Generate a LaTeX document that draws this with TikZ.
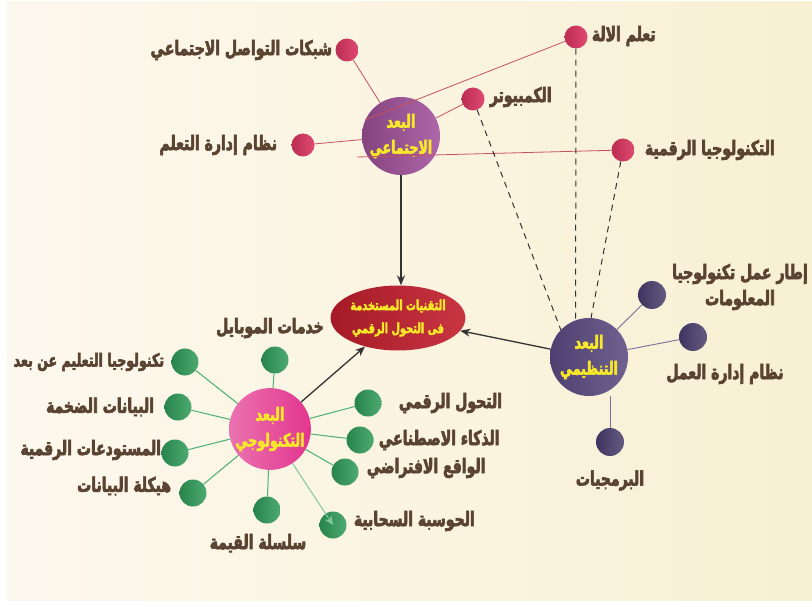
\documentclass[tikz,border=0pt]{standalone}
\usepackage{fontspec}
\newfontfamily\arabicfont[Script=Arabic, FakeStretch=0.7,
  BoldFeatures={FakeBold=3, FakeStretch=0.7}]{DejaVu Sans}
\TeXXeTstate=1
\usetikzlibrary{arrows.meta,positioning,shapes.geometric}

\definecolor{paperleft}{HTML}{FDF8EE}
\definecolor{paperright}{HTML}{F8F0D3}
\definecolor{labelbrown}{HTML}{5A4330}
\definecolor{dotred}{HTML}{DC3561}
\definecolor{linered}{HTML}{C9505F}
\definecolor{socialpurple}{HTML}{A5559F}
\definecolor{orgpurple}{HTML}{56467C}
\definecolor{dotpurple}{HTML}{3E3360}
\definecolor{linepurple}{HTML}{7A6E9C}
\definecolor{techpink}{HTML}{E2368E}
\definecolor{dotgreen}{HTML}{2E9B58}
\definecolor{linegreen}{HTML}{48B072}
\definecolor{hubred}{HTML}{C21F2D}
\definecolor{hubyellow}{HTML}{F8E82A}

\newcommand{\rtl}[1]{\beginR #1\endR}

\tikzset{
  itemtext/.style={font=\arabicfont\bfseries\fontsize{20}{26}\selectfont,
    text=labelbrown, inner sep=0pt, align=center},
  reddot/.style={circle, minimum size=23pt, inner sep=0pt,
    left color=dotred!85!black, right color=dotred!90!white},
  purpledot/.style={circle, minimum size=28pt, inner sep=0pt,
    left color=dotpurple, right color=dotpurple!80!white},
  greendot/.style={circle, minimum size=27pt, inner sep=0pt,
    left color=dotgreen!85!black, right color=dotgreen!85!white},
  dimension/.style={circle, minimum size=78pt, inner sep=0pt, align=center,
    text=hubyellow, font=\arabicfont\bfseries\fontsize{18}{26}\selectfont},
  redlink/.style={draw=linered, line width=0.8pt},
  purplelink/.style={draw=linepurple, line width=0.9pt},
  greenlink/.style={draw=linegreen, line width=1pt},
  dashlink/.style={draw=black!80, line width=1pt, dash pattern=on 6pt off 5pt},
  hubarrow/.style={draw=black!80, line width=1.3pt,
    -{Stealth[length=10pt,width=8pt]}}
}

\begin{document}
\begin{tikzpicture}[x=1pt,y=-1pt]
\useasboundingbox (0,0) rectangle (812,607);
\fill[white] (0,0) rectangle (812,607);
\fill[left color=paperleft, right color=paperright] (7,2) rectangle (812,600);

% the three dimensions and the hub
\node[ellipse, minimum width=127pt, minimum height=65pt, inner sep=0pt,
  left color=hubred!85!black, right color=hubred!90!white, align=center,
  text=hubyellow, font=\arabicfont\bfseries\fontsize{14}{23}\selectfont]
  (hub) at (398,318) {\rtl{التقنيات المستخدمة}\\\rtl{فى التحول الرقمي}};
\node[dimension, left color=socialpurple!80!black, right color=socialpurple!90!white]
  (social) at (401,136) {\rtl{البعد}\\\rtl{الاجتماعي}};
\node[dimension, left color=orgpurple!90!black, right color=orgpurple!85!white]
  (org) at (589,357) {\rtl{البعد}\\\rtl{التنظيمي}};
\node[dimension, minimum size=80pt, left color=techpink!70!white, right color=techpink]
  (tech) at (270,429) {\rtl{البعد}\\\rtl{التكنولوجي}};

% social items
\node[reddot] (networks) at (347,50) {};
\node[reddot] (lms) at (303,145) {};
\node[reddot] (machine) at (576,37) {};
\node[reddot] (computer) at (473,99) {};
\node[reddot] (digitech) at (623,150) {};
\node[itemtext, left=3pt of networks] (networkstext) {\rtl{شبكات التواصل الاجتماعي}};
\node[itemtext, left=14pt of lms] (lmstext) {\rtl{نظام إدارة التعلم}};
\node[itemtext, right=4pt of machine, yshift=1pt] (machinetext) {\rtl{تعلم الالة}};
\node[itemtext, right=5pt of computer, yshift=2pt] (computertext) {\rtl{الكمبيوتر}};
\node[itemtext, right=10pt of digitech] (digitechtext) {\rtl{التكنولوجيا الرقمية}};

\coordinate (machineend) at (365,120);
\coordinate (digitechend) at (357,157);
\draw[redlink] (networks) -- (social);
\draw[redlink] (lms) -- (social);
\draw[redlink] (computer) -- (social);
\draw[redlink] (machine) -- (machineend);
\draw[redlink] (digitech) -- (digitechend);

\draw[dashlink] (computer) -- (org.136);
\draw[dashlink] (machine) -- (org.110);
\draw[dashlink] (digitech) -- (org.87);

% organisational items
\node[purpledot] (itframe) at (652,295) {};
\node[purpledot] (workflow) at (693,337) {};
\node[purpledot] (software) at (610,442) {};
\node[itemtext] (itframetext) at (740,287) {\rtl{إطار عمل تكنولوجيا}\\\rtl{المعلومات}};
\node[itemtext] (workflowtext) at (725,374) {\rtl{نظام إدارة العمل}};
\node[itemtext, below=14pt of software] (softwaretext) {\rtl{البرمجيات}};
\draw[purplelink] (org) -- (itframe);
\draw[purplelink] (org) -- (workflow);
\draw[purplelink] (org.south -| software) -- (software);

% technological items
\node[greendot] (mobile) at (275,360) {};
\node[greendot] (elearning) at (185,362) {};
\node[greendot] (bigdata) at (178,407) {};
\node[greendot] (repos) at (175,453) {};
\node[greendot] (datastruct) at (193,493) {};
\node[greendot] (valuechain) at (267,510) {};
\node[greendot] (cloud) at (333,525) {};
\node[greendot] (vr) at (345,472) {};
\node[greendot] (ai) at (360,440) {};
\node[greendot] (transform) at (368,403) {};
\node[itemtext, above=8pt of mobile, xshift=-5pt] (mobiletext) {\rtl{خدمات الموبايل}};
\node[itemtext, font=\arabicfont\bfseries\fontsize{18}{26}\selectfont,
  left=7pt of elearning] (elearningtext) {\rtl{تكنولوجيا التعليم عن بعد}};
\node[itemtext, left=10pt of bigdata] (bigdatatext) {\rtl{البيانات الضخمة}};
\node[itemtext, left=0pt of repos, yshift=3pt] (repostext) {\rtl{المستودعات الرقمية}};
\node[itemtext, left=8pt of datastruct, yshift=7pt] (datastructtext) {\rtl{هيكلة البيانات}};
\node[itemtext, below=10pt of valuechain, xshift=-9pt] (valuechaintext) {\rtl{سلسلة القيمة}};
\node[itemtext, right=7pt of cloud, yshift=4pt] (cloudtext) {\rtl{الحوسبة السحابية}};
\node[itemtext, right=8pt of vr, yshift=4pt] (vrtext) {\rtl{الواقع الافتراضي}};
\node[itemtext, right=5pt of ai] (aitext) {\rtl{الذكاء الاصطناعي}};
\node[itemtext, right=17pt of transform] (transformtext) {\rtl{التحول الرقمي}};
\foreach \item in {mobile,elearning,bigdata,repos,datastruct,valuechain,vr,ai,transform}
  \draw[greenlink] (tech) -- (\item);
\draw[greenlink, draw=linegreen!70!white, -{Stealth[length=9pt,width=8pt]}]
  (tech) -- (cloud.center);

% into the hub
\draw[hubarrow] (social) -- (social |- hub.north);
\draw[hubarrow] (org) -- (hub);
\draw[hubarrow] (tech) -- (hub);
\end{tikzpicture}
\end{document}
